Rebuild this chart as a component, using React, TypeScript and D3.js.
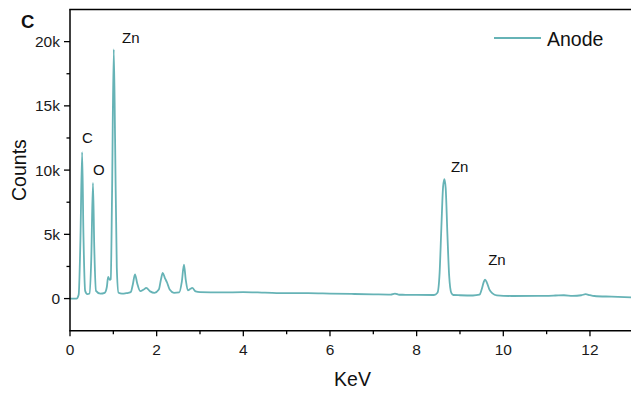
import React from "react";
import * as d3 from "d3";

// Spectrum (keV, counts)
const energyKeV = [
  0.0, 0.15, 0.2, 0.24, 0.28, 0.31, 0.35, 0.4, 0.45, 0.49, 0.53, 0.56, 0.6, 0.7, 0.8, 0.85, 0.88, 0.92, 0.94,
  0.97, 1.01, 1.04, 1.08, 1.12, 1.2, 1.3, 1.4, 1.45, 1.5, 1.55, 1.62, 1.7, 1.76, 1.85, 1.95, 2.05, 2.1, 2.14,
  2.19, 2.24, 2.3, 2.4, 2.52, 2.58, 2.63, 2.67, 2.72, 2.78, 2.82, 2.9, 3.0, 3.5, 4.0, 4.5, 5.0, 5.5, 6.0, 6.5,
  7.0, 7.4, 7.5, 7.6, 8.0, 8.4, 8.48, 8.53, 8.57, 8.61, 8.64, 8.67, 8.71, 8.75, 8.8, 8.85, 9.0, 9.3, 9.45, 9.5,
  9.55, 9.58, 9.62, 9.68, 9.75, 9.85, 10.2, 10.8, 11.2, 11.4, 11.6, 11.8, 11.9, 12.0, 12.1, 12.5, 13.0,
];
const counts = [
  0, 0, 300, 4500, 11400, 5000, 600, 350, 400, 3000, 9000, 4000, 600, 380, 450, 900, 1680, 1450, 1500,
  8000, 19400, 12500, 2400, 450, 380, 420, 500, 1100, 1890, 1200, 580, 700, 830, 560, 450, 700, 1500, 2000,
  1600, 1250, 700, 450, 480, 1300, 2650, 1500, 650, 760, 830, 560, 500, 480, 500, 460, 420, 420, 390, 360,
  330, 310, 390, 300, 290, 280, 450, 2000, 5500, 8700, 9300, 8600, 5000, 1800, 450, 280, 260, 240, 300, 700,
  1300, 1480, 1250, 700, 400, 250, 200, 210, 240, 260, 210, 260, 340, 260, 200, 150, 90,
];

// Peak labels (text, keV, counts at label baseline-left)
const peakLabels = ["C", "O", "Zn", "Zn", "Zn"];
const peakLabelKeV = [0.277, 0.53, 1.2, 8.79, 9.65];
const peakLabelCounts = [12100, 9650, 19900, 9845, 2595];

const xMajorTicks = [0, 2, 4, 6, 8, 10, 12];
const xMinorTicks = [1, 3, 5, 7, 9, 11];
const yMajorTicks = [0, 5000, 10000, 15000, 20000];
const yTickLabels = ["0", "5k", "10k", "15k", "20k"];
const yMinorTicks = [2500, 7500, 12500, 17500];

const seriesName = "Anode";
const xTitle = "KeV";
const yTitle = "Counts";
const panelLabel = "C";

export default function App() {
  const W = 631, H = 394;
  const left = 70, right = 633.3, top = 9.5, bottom = 330.7;
  const x = d3.scaleLinear().domain([0, 13]).range([left, right]);
  const y = d3.scaleLinear().domain([-2500, 22500]).range([bottom, top]);
  const color = "#66b3b6";
  const font = "'Liberation Sans', Arial, sans-serif";
  const pts = energyKeV.map((e, i) => [e, counts[i]] as [number, number]);
  const line = d3
    .line<[number, number]>()
    .x((d) => x(d[0]))
    .y((d) => y(d[1]))
    .curve(d3.curveMonotoneX);

  return (
    <svg
      width={W}
      height={H}
      style={{ position: "absolute", left: 0, top: 0, background: "#fff" }}
      fontFamily={font}
    >
      <defs>
        <clipPath id="plot">
          <rect x={left} y={top} width={right - left} height={bottom - top} />
        </clipPath>
      </defs>
      <path d={line(pts) || ""} fill="none" stroke={color} strokeWidth={1.8} clipPath="url(#plot)" strokeLinejoin="round" />

      {/* axes */}
      <line x1={left} x2={left} y1={top} y2={bottom} stroke="#000" strokeWidth={1.5} />
      <line x1={left - 0.75} x2={right} y1={bottom} y2={bottom} stroke="#000" strokeWidth={1.5} />
      <line x1={left - 0.75} x2={right} y1={top} y2={top} stroke="#000" strokeWidth={1.5} />

      {xMajorTicks.map((t) => (
        <g key={"xm" + t}>
          <line x1={x(t)} x2={x(t)} y1={bottom} y2={bottom + 5.5} stroke="#000" strokeWidth={1.3} />
          <text x={x(t)} y={355} textAnchor="middle" fontSize={15.5} fill="#1a1a1a">
            {t}
          </text>
        </g>
      ))}
      {xMinorTicks.map((t) => (
        <line key={"xn" + t} x1={x(t)} x2={x(t)} y1={bottom} y2={bottom + 3.5} stroke="#000" strokeWidth={1.3} />
      ))}
      {yMajorTicks.map((t, i) => (
        <g key={"ym" + t}>
          <line x1={left - 6} x2={left} y1={y(t)} y2={y(t)} stroke="#000" strokeWidth={1.3} />
          <text x={60} y={y(t)} dy="0.36em" textAnchor="end" fontSize={15.5} fill="#1a1a1a">
            {yTickLabels[i]}
          </text>
        </g>
      ))}
      {yMinorTicks.map((t) => (
        <line key={"yn" + t} x1={left - 3.5} x2={left} y1={y(t)} y2={y(t)} stroke="#000" strokeWidth={1.3} />
      ))}

      {/* titles */}
      <text x={352.5} y={386} textAnchor="middle" fontSize={19.5} fill="#111">
        {xTitle}
      </text>
      <text
        transform={`translate(26,${(top + bottom) / 2}) rotate(-90)`}
        textAnchor="middle"
        fontSize={19.5}
        fill="#111"
      >
        {yTitle}
      </text>
      <text x={21} y={28} fontSize={18.5} fontWeight="bold" fill="#111">
        {panelLabel}
      </text>

      {/* peak labels */}
      {peakLabels.map((lab, i) => (
        <text key={"pl" + i} x={x(peakLabelKeV[i])} y={y(peakLabelCounts[i])} fontSize={15} fill="#111">
          {lab}
        </text>
      ))}

      {/* legend */}
      <line x1={494} x2={541} y1={38} y2={38} stroke={color} strokeWidth={1.8} />
      <text x={547} y={38.5} dy="0.36em" fontSize={19.5} fill="#111">
        {seriesName}
      </text>
    </svg>
  );
}
